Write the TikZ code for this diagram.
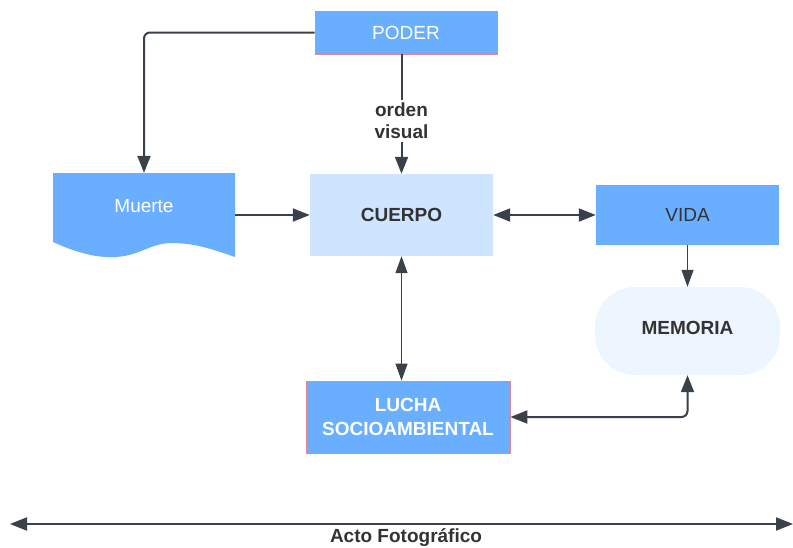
\documentclass[tikz,border=0pt]{standalone}
\usepackage{fontspec}
\setmainfont{Liberation Sans}
\usetikzlibrary{arrows.meta,positioning}
\definecolor{bluebox}{HTML}{6AAFFF}
\definecolor{lightbox}{HTML}{CFE4FF}
\definecolor{palebox}{HTML}{EDF5FF}
\definecolor{linec}{HTML}{3A414A}
\definecolor{txtdark}{HTML}{333333}
\definecolor{pinkb}{HTML}{E8868E}
\tikzset{
  box/.style={rectangle, inner sep=0pt, align=center, font=\fontsize{19}{22}\selectfont},
  conn/.style={draw=linec, line width=2pt, -{Triangle[length=17pt,width=13pt]}},
  conn2/.style={draw=linec, line width=2pt, {Triangle[length=17pt,width=13pt]}-{Triangle[length=17pt,width=13pt]}},
  thin1/.style={draw=linec, line width=1.2pt, -{Triangle[length=17pt,width=12pt]}},
  thin2/.style={draw=linec, line width=1.2pt, {Triangle[length=17pt,width=12pt]}-{Triangle[length=17pt,width=12pt]}},
  lbl/.style={font=\fontsize{19}{22}\selectfont\bfseries, text=txtdark, align=center}
}
\begin{document}
\begin{tikzpicture}[x=1pt,y=-1pt]
\useasboundingbox (0,0) rectangle (793,547);
% Muerte document shape
\fill[bluebox] (53,173) -- (235,173) -- (235,257)
  .. controls (215,250) and (195,243) .. (172,243)
  .. controls (150,243) and (140,256) .. (115,257)
  .. controls (95,258) and (75,252) .. (53,242) -- cycle;
\node[box, minimum width=182pt, minimum height=84pt] (muerte) at (144,215) {};
\node[box, text=white] (muertetxt) at (144,206) {Muerte};

\node[box, fill=bluebox, draw=pinkb, line width=0.8pt, minimum width=182pt, minimum height=43pt, text=white] (poder) at (406,32.5) {PODER};
\node[box, fill=lightbox, minimum width=183pt, minimum height=82pt, text=txtdark, font=\fontsize{19}{22}\selectfont\bfseries] (cuerpo) at (401.5,215) {CUERPO};
\node[box, fill=bluebox, minimum width=183pt, minimum height=60pt, text=txtdark] (vida) at (687.5,215) {VIDA};
\node[box, fill=palebox, rounded corners=40pt, minimum width=185pt, minimum height=88pt] (memoria) at (687.5,331) {};
\node[box, text=txtdark, font=\fontsize{19}{22}\selectfont\bfseries] (memtxt) at (687.5,328) {MEMORIA};
\node[box, fill=bluebox, draw=pinkb, line width=0.8pt, minimum width=204pt, minimum height=72pt, text=white, font=\fontsize{19}{24}\selectfont\bfseries] (lucha) at (408,417) {LUCHA\\SOCIOAMBIENTAL};

% connectors
\draw[conn, rounded corners=6pt] (poder.west) -| (muerte.north);
\draw[conn] (poder.south -| cuerpo.north) -- node[lbl, fill=white, inner sep=3pt, pos=0.555] (orden) {orden\\visual} (cuerpo.north);
\draw[conn] (muerte.east) -- (cuerpo.west);
\draw[conn2] (cuerpo.east) -- (vida.west);
\draw[thin1] (vida.south) -- (memoria.north);
\draw[thin2] (cuerpo.south) -- (cuerpo.south |- lucha.north);
\draw[conn2, rounded corners=6pt] (lucha.east) -| (memoria.south);

% bottom axis
\coordinate (axl) at (10,524);
\coordinate (axr) at (793,524);
\draw[conn2] (axl) -- (axr);
\node[lbl] (acto) at (406,538) {Acto Fotográfico};
\end{tikzpicture}
\end{document}
